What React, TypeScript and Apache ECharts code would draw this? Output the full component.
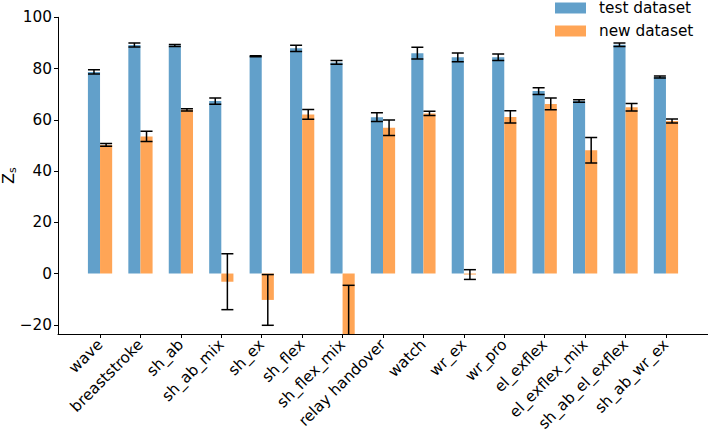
import React, { useEffect, useRef } from "react";
import * as echarts from "echarts";

const categories = [
  "wave", "breaststroke", "sh_ab", "sh_ab_mix", "sh_ex", "sh_flex", "sh_flex_mix",
  "relay handover", "watch", "wr_ex", "wr_pro", "el_exflex", "el_exflex_mix",
  "sh_ab_el_exflex", "sh_ab_wr_ex",
];

const testMean = [78.7, 89.2, 89.0, 67.3, 84.8, 87.9, 82.4, 61.0, 86.0, 84.4, 84.4, 71.2, 67.3, 89.3, 76.7];
const testErr = [0.85, 0.8, 0.4, 1.2, 0.2, 1.2, 0.7, 1.7, 2.3, 1.7, 1.3, 1.3, 0.5, 0.7, 0.4];
const newMean = [50.2, 53.5, 63.9, -3.2, -10.3, 62.1, -32.0, 56.9, 62.5, -0.4, 61.1, 66.2, 48.1, 64.9, 59.5];
const newErr = [0.5, 2.0, 0.45, 10.9, 9.9, 1.9, 27.4, 3.0, 0.85, 1.9, 2.4, 2.3, 5.0, 1.5, 0.8];

const yTicks = [-20, 0, 20, 40, 60, 80, 100];

const BAR_W = 0.3;
const CAP_HALF = 6;
const FS = 15.3;

function makeRender(offset: number, color: string) {
  return (params: any, api: any) => {
    const x = api.value(0) as number;
    const y = api.value(1) as number;
    const e = api.value(2) as number;
    const p0 = api.coord([x + offset - BAR_W / 2, 0]);
    const p1 = api.coord([x + offset + BAR_W / 2, y]);
    const cx = api.coord([x + offset, y])[0];
    const hi = api.coord([x + offset, y + e])[1];
    const lo = api.coord([x + offset, y - e])[1];
    const bar = {
      type: "rect",
      shape: {
        x: p0[0],
        y: Math.min(p0[1], p1[1]),
        width: p1[0] - p0[0],
        height: Math.abs(p1[1] - p0[1]),
      },
      style: { fill: color },
    };
    const lineStyle = { stroke: "#000", lineWidth: 1.5 };
    return {
      type: "group",
      children: [
        bar,
        { type: "line", shape: { x1: cx, y1: hi, x2: cx, y2: lo }, style: lineStyle },
        { type: "line", shape: { x1: cx - CAP_HALF, y1: hi, x2: cx + CAP_HALF, y2: hi }, style: lineStyle },
        { type: "line", shape: { x1: cx - CAP_HALF, y1: lo, x2: cx + CAP_HALF, y2: lo }, style: lineStyle },
      ],
    };
  };
}

export default function App() {
  const ref = useRef<HTMLDivElement>(null);

  useEffect(() => {
    if (!ref.current) return;
    const chart = echarts.init(ref.current, null, { renderer: "svg" });
    const blue = "#62a0ca";
    const orange = "#ffa556";
    const font = "DejaVu Sans";
    const idx = categories.map((_, i) => i);

    chart.setOption({
      animation: false,
      textStyle: { fontFamily: font },
      grid: { left: 58, right: 0, top: 17.3, bottom: 101, containLabel: false, outerBoundsMode: "none" },
      legend: {
        orient: "vertical",
        left: 555,
        top: 0.5,
        padding: 0,
        itemWidth: 31,
        itemHeight: 11,
        itemGap: 8,
        icon: "rect",
        textStyle: { fontFamily: font, fontSize: FS, color: "#000", lineHeight: 15, padding: [0, 0, 0, 8] },
        data: ["test dataset", "new dataset"],
      },
      xAxis: {
        type: "value",
        min: -1.04,
        max: 15.04,
        splitLine: { show: false },
        axisLine: { show: true, onZero: false, lineStyle: { color: "#000", width: 1 } },
        axisTick: { show: true, customValues: idx, length: 4, lineStyle: { color: "#000" } },
        axisLabel: {
          customValues: idx,
          rotate: 45,
          fontSize: FS,
          color: "#000",
          margin: 8,
          formatter: (v: number) => categories[Math.round(v)] ?? "",
        },
      },
      yAxis: {
        type: "value",
        min: -23.6,
        max: 100,
        splitLine: { show: false },
        axisLine: { show: true, onZero: false, lineStyle: { color: "#000", width: 1 } },
        axisTick: { show: true, customValues: yTicks, length: 4, lineStyle: { color: "#000" } },
        axisLabel: {
          customValues: yTicks,
          fontSize: FS,
          color: "#000",
          margin: 6,
          formatter: (v: number) => String(v).replace("-", "\u2212"),
        },
        name: "{z|Z}{s|s}",
        nameLocation: "middle",
        nameGap: 40,
        nameMoveOverlap: false,
        nameTextStyle: {
          rich: {
            z: { fontFamily: font, fontSize: 16, color: "#000", lineHeight: 20 },
            s: { fontFamily: font, fontSize: 11, color: "#000", verticalAlign: "bottom", lineHeight: 20 },
          },
        },
      },
      series: [
        {
          name: "test dataset",
          type: "custom",
          clip: true,
          itemStyle: { color: blue },
          encode: { x: 0, y: 1 },
          data: idx.map((i) => [i, testMean[i], testErr[i]]),
          renderItem: makeRender(-0.15, blue),
        },
        {
          name: "new dataset",
          type: "custom",
          clip: true,
          itemStyle: { color: orange },
          encode: { x: 0, y: 1 },
          data: idx.map((i) => [i, newMean[i], newErr[i]]),
          renderItem: makeRender(0.15, orange),
        },
      ],
    });

    return () => chart.dispose();
  }, []);

  return (
    <div
      ref={ref}
      style={{ position: "fixed", left: 0, top: 0, width: 708, height: 435, background: "#fff" }}
    />
  );
}
